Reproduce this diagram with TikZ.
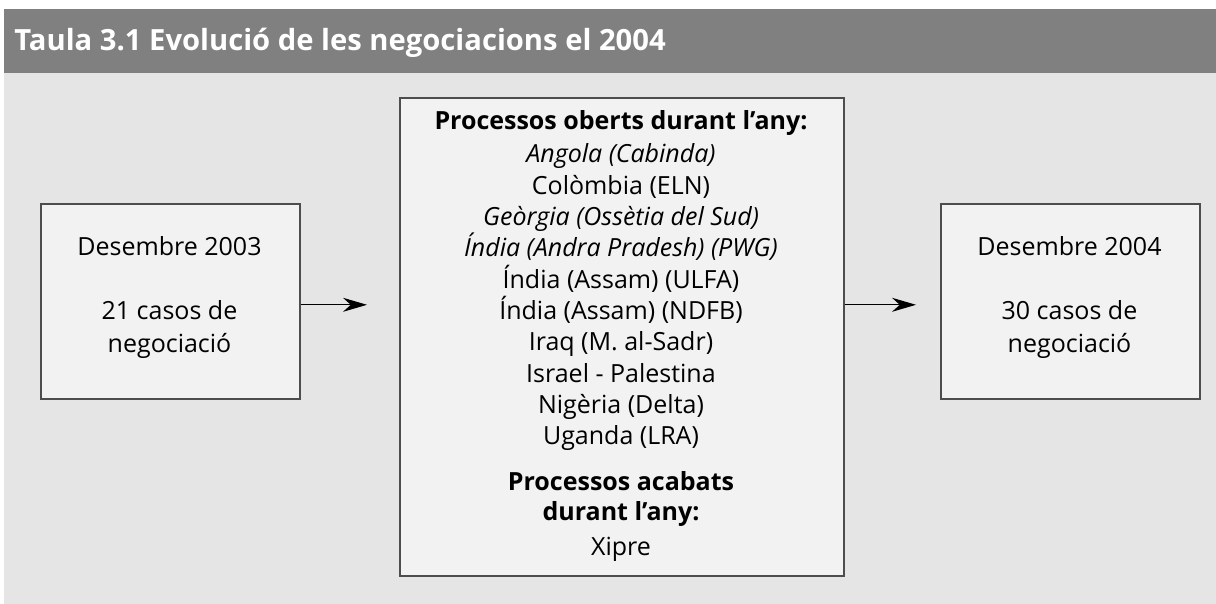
\documentclass[tikz,border=0pt]{standalone}
\usepackage{fontspec}
\setmainfont{Open Sans}
\usetikzlibrary{arrows.meta}
\definecolor{titlegray}{HTML}{808080}
\definecolor{panelgray}{HTML}{E5E5E5}
\definecolor{boxfill}{HTML}{F2F2F2}
\definecolor{boxline}{HTML}{4D4D4D}
\begin{document}
\begin{tikzpicture}[x=0.5pt,y=-0.5pt,
  box/.style={draw=boxline, fill=boxfill, line width=0.8pt, anchor=north west, inner sep=0pt},
  txt/.style={anchor=base, inner sep=0pt, font=\fontsize{12.5}{15}\selectfont},
  hd/.style={txt, font=\fontsize{12.5}{15}\selectfont\bfseries},
  arr/.style={-{Stealth[length=12pt,width=7pt]}, line width=0.55pt, black}]
\useasboundingbox (0,0) rectangle (1216,604);
\fill[white] (0,0) rectangle (1216,604);
\fill[panelgray] (4,73) rectangle (1216,604);
\fill[titlegray] (4,9) rectangle (1216,73);
\node[anchor=base west, inner sep=0pt, text=white, font=\fontsize{14.6}{18}\selectfont\bfseries] (title) at (14,51) {Taula 3.1 Evolució de les negociacions el 2004};
% boxes
\node[box, minimum width=129.5pt, minimum height=97.5pt] (lbox) at (40,203) {};
\node[box, minimum width=222pt, minimum height=239pt] (cbox) at (399,97) {};
\node[box, minimum width=129.5pt, minimum height=97.5pt] (rbox) at (940,203) {};
% left text
\node[txt] (l1) at (169.5,256) {Desembre 2003};
\node[txt] (l2) at (169.5,320) {21 casos de};
\node[txt] (l3) at (169.5,352) {negociació};
% right text
\node[txt] (r1) at (1069.5,256) {Desembre 2004};
\node[txt] (r2) at (1069.5,320) {30 casos de};
\node[txt] (r3) at (1069.5,352) {negociació};
% center text
\node[hd] (c0) at (621,130) {Processos oberts durant l’any:};
\node[txt] (c1) at (621,163) {\itshape Angola (Cabinda)};
\node[txt] (c2) at (621,194.3) {Colòmbia (ELN)};
\node[txt] (c3) at (621,225.6) {\itshape Geòrgia (Ossètia del Sud)};
\node[txt] (c4) at (621,256.9) {\itshape Índia (Andra Pradesh) (PWG)};
\node[txt] (c5) at (621,288.2) {Índia (Assam) (ULFA)};
\node[txt] (c6) at (621,319.5) {Índia (Assam) (NDFB)};
\node[txt] (c7) at (621,350.8) {Iraq (M. al-Sadr)};
\node[txt] (c8) at (621,382.1) {Israel - Palestina};
\node[txt] (c9) at (621,413.4) {Nigèria (Delta)};
\node[txt] (c10) at (621,444.7) {Uganda (LRA)};
\node[hd] (c11) at (621,490) {Processos acabats};
\node[hd] (c12) at (621,520) {durant l’any:};
\node[txt] (c13) at (621,555) {Xipre};
% arrows
\draw[arr, shorten >=16pt] ([yshift=-1.75pt]lbox.east) -- ([yshift=-1.75pt]lbox.east -| cbox.west);
\draw[arr, shorten >=12pt] ([yshift=-1.75pt]rbox.west -| cbox.east) -- ([yshift=-1.75pt]rbox.west);
\end{tikzpicture}
\end{document}
